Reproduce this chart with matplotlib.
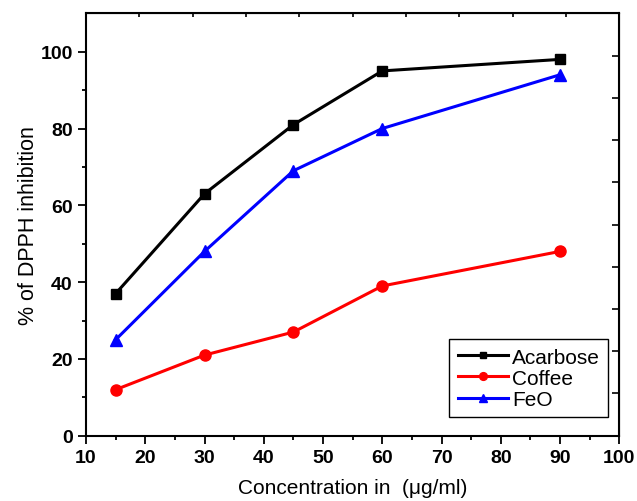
import matplotlib.pyplot as plt
import numpy as np

conc = [15, 30, 45, 60, 90]
acarbose = [37, 63, 81, 95, 98]
coffee = [12, 21, 27, 39, 48]
feo = [25, 48, 69, 80, 94]

plt.rcParams['font.family'] = ['Liberation Sans', 'DejaVu Sans']

fig = plt.figure(figsize=(6.37, 5.02), dpi=100)
ax = fig.add_axes([0.135, 0.130, 0.8372, 0.8415])

ax.plot(conc, acarbose, color='black', lw=2.2, marker='s', ms=7, label='Acarbose')
ax.plot(conc, coffee, color='red', lw=2.2, marker='o', ms=8, label='Coffee')
ax.plot(conc, feo, color='blue', lw=2.2, marker='^', ms=9, label='FeO')

ax.set_xlim(10, 100)
ax.set_ylim(0, 110)
ax.set_xticks(np.arange(10, 101, 10))
ax.set_xticks(np.arange(15, 100, 10), minor=True)
ax.set_yticks(np.arange(0, 101, 20))
ax.set_yticks(np.arange(10, 110, 20), minor=True)
ax.tick_params(which='major', direction='out', length=6, width=1.3, labelsize=14)
ax.tick_params(which='minor', direction='out', length=3, width=1.3)
for lab in ax.get_xticklabels() + ax.get_yticklabels():
    lab.set_fontweight('bold')
for s in ax.spines.values():
    s.set_linewidth(1.5)

# mirror ticks on top and right, Origin style
top = ax.secondary_xaxis('top')
top.set_xticks(np.arange(10, 101, 9))
top.tick_params(direction='in', length=3, width=1.2, labeltop=False)
right = ax.secondary_yaxis('right')
right.set_yticks(np.arange(0, 111, 11))
right.tick_params(direction='in', length=5, width=1.2, labelright=False)

ax.set_xlabel('Concentration in  (\u03bcg/ml)', fontsize=15, labelpad=9)
ax.set_ylabel('% of DPPH inhibition', fontsize=15.5, labelpad=1)

leg = ax.legend(loc='lower right', bbox_to_anchor=(0.979, 0.044), borderaxespad=0,
                fontsize=15, markerscale=0.7, handlelength=2.4, handletextpad=0.2,
                labelspacing=0.1, borderpad=0.4, fancybox=False, framealpha=1)
leg.get_frame().set_edgecolor('black')
leg.get_frame().set_linewidth(1.0)

fig.savefig('out.png', dpi=100)
